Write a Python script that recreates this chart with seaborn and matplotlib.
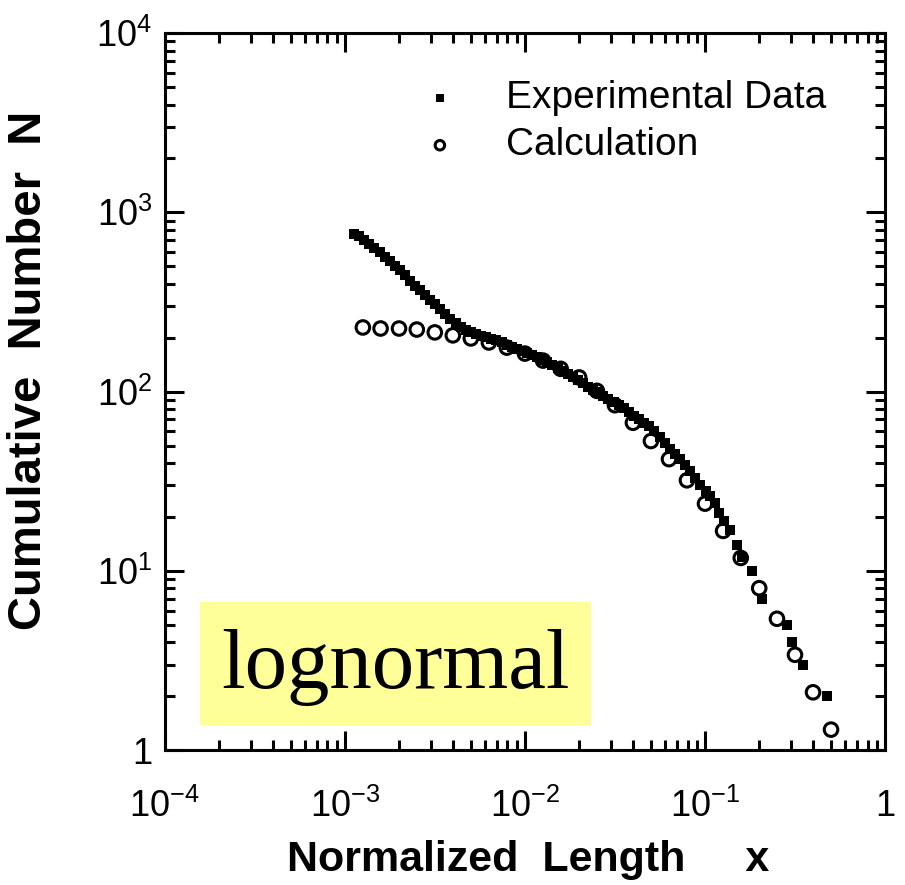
import numpy as np
import pandas as pd
import matplotlib
matplotlib.use('Agg')
import matplotlib.pyplot as plt
import seaborn as sns
from matplotlib.patches import Rectangle
from matplotlib.ticker import LogLocator, NullFormatter

# experimental data (normalized length, cumulative number)
exp_x = [0.00112, 0.00120, 0.00128, 0.00137, 0.00146, 0.00156, 0.00167, 0.00178,
         0.00190, 0.00202, 0.00216, 0.00230, 0.00245, 0.00261, 0.00279, 0.00298,
         0.00318, 0.00339, 0.00362, 0.00386, 0.00412, 0.00440, 0.00470, 0.00501,
         0.00535, 0.00571, 0.00610, 0.00651, 0.00695, 0.00742, 0.00792, 0.00845,
         0.00902, 0.00963, 0.0103, 0.0110, 0.0117, 0.0125, 0.0133, 0.0142,
         0.0152, 0.0162, 0.0173, 0.0185, 0.0197, 0.0210, 0.0225, 0.0240,
         0.0256, 0.0273, 0.0291, 0.0311, 0.0332, 0.0354, 0.0378, 0.0404,
         0.0431, 0.0460, 0.0491, 0.0524, 0.0559, 0.0597, 0.0637, 0.0680,
         0.0726, 0.0775, 0.0827, 0.0883, 0.0942, 0.101, 0.107, 0.113,
         0.120, 0.128, 0.138, 0.150, 0.160, 0.182, 0.207, 0.286, 0.304, 0.350, 0.476]
exp_y = [760, 735, 700, 668, 635, 600, 565, 535,
         505, 475, 445, 415, 390, 367, 345, 325,
         307, 290, 272, 255, 240, 228, 220, 215,
         210, 205, 201, 197, 193, 188, 183, 178,
         174, 169, 165, 160, 156, 151, 146, 141,
         136, 131, 126, 121, 116, 111, 106, 102,
         99, 95, 91, 87, 84, 81, 77, 73,
         70, 67, 64, 60, 56, 52, 48, 45,
         42, 39, 36, 33, 30, 28, 26, 24,
         21, 19, 17, 14, 12, 10, 7, 5, 4, 3, 2]

# calculation (lognormal)
calc_x = [0.00126, 0.00158, 0.00200, 0.00251, 0.00316, 0.00398, 0.00501, 0.00631,
          0.00794, 0.0100, 0.0126, 0.0158, 0.0200, 0.0251, 0.0316, 0.0398,
          0.0501, 0.0631, 0.0794, 0.100, 0.126, 0.158, 0.200, 0.251,
          0.316, 0.398, 0.501]
calc_y = [228, 225, 225, 222, 214, 206, 198, 188,
          176, 163, 149, 134, 120, 101, 84, 67,
          53, 42, 32, 23.7, 16.7, 11.8, 8.0, 5.4,
          3.4, 2.1, 1.3]

x_ticks = [1e-4, 1e-3, 1e-2, 1e-1, 1]
x_ticklabels = ['$\\mathdefault{10^{-4}}$', '$\\mathdefault{10^{-3}}$',
                '$\\mathdefault{10^{-2}}$', '$\\mathdefault{10^{-1}}$', '1']
y_ticks = [1, 10, 100, 1000, 10000]
y_ticklabels = ['1', '$\\mathdefault{10^{1}}$', '$\\mathdefault{10^{2}}$',
                '$\\mathdefault{10^{3}}$', '$\\mathdefault{10^{4}}$']

sns.set_style('ticks')
plt.rcParams['font.family'] = ['Liberation Sans', 'DejaVu Sans']
plt.rcParams['mathtext.fontset'] = 'custom'
plt.rcParams['mathtext.rm'] = 'Liberation Sans'
plt.rcParams['text.color'] = 'black'
plt.rcParams['axes.labelcolor'] = 'black'
plt.rcParams['xtick.color'] = 'black'
plt.rcParams['ytick.color'] = 'black'

exp_df = pd.DataFrame({'x': exp_x, 'N': exp_y})
calc_df = pd.DataFrame({'x': calc_x, 'N': calc_y})

fig = plt.figure(figsize=(9.05, 8.85), dpi=100)
ax = fig.add_axes([0.182, 0.1525, 0.796, 0.810])

sns.scatterplot(data=exp_df, x='x', y='N', ax=ax, marker='s', s=62,
                color='black', edgecolor='black', linewidth=0,
                label='Experimental Data', zorder=3)
sns.scatterplot(data=calc_df, x='x', y='N', ax=ax, marker='o', s=95,
                facecolor='none', edgecolor='black', linewidth=2.2,
                label='Calculation', zorder=2)

ax.set_xscale('log')
ax.set_yscale('log')
ax.set_xlim(1e-4, 1)
ax.set_ylim(1, 1e4)

ax.set_xticks(x_ticks, x_ticklabels)
ax.set_yticks(y_ticks, y_ticklabels)
ax.xaxis.set_minor_locator(LogLocator(base=10, subs=np.arange(2, 10), numticks=20))
ax.yaxis.set_minor_locator(LogLocator(base=10, subs=np.arange(2, 10), numticks=20))
ax.xaxis.set_minor_formatter(NullFormatter())
ax.yaxis.set_minor_formatter(NullFormatter())

ax.tick_params(which='both', direction='in', top=True, right=True, width=2.2,
               color='black')
ax.tick_params(which='major', length=14)
ax.tick_params(which='minor', length=7)
ax.tick_params(axis='x', which='major', labelsize=26, pad=28)
ax.tick_params(axis='y', which='major', labelsize=26, pad=9)

for sp in ax.spines.values():
    sp.set_linewidth(2.2)
    sp.set_color('black')
    sp.set_visible(True)

ax.set_xlabel('Normalized  Length     x', fontsize=31, fontweight='bold')
ax.set_ylabel('Cumulative  Number  N', fontsize=34, fontweight='bold')
ax.xaxis.set_label_coords(0.504, -0.125)
ax.yaxis.set_label_coords(-0.158, 0.53)

leg = ax.legend(loc='upper left', bbox_to_anchor=(0.355, 0.935), frameon=False,
                fontsize=28, borderaxespad=0, borderpad=0, handlelength=1.0,
                handletextpad=1.2, labelspacing=0.3, markerscale=0.7)

# yellow label box
ax.add_patch(Rectangle((0.049, 0.035), 0.543, 0.171, transform=ax.transAxes,
                       facecolor='#FFFF99', edgecolor='none', zorder=1))
ax.text(0.32, 0.115, 'lognormal', transform=ax.transAxes, ha='center',
        va='center', fontsize=61, family=['Liberation Serif', 'DejaVu Serif'],
        color='black', zorder=4)

fig.savefig('out.png', dpi=100)
